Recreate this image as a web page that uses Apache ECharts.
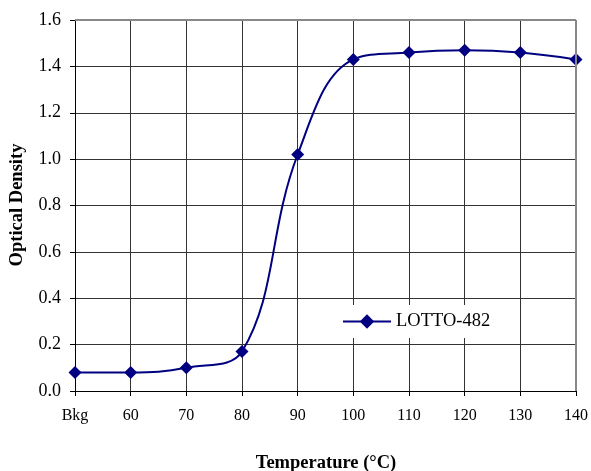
<!DOCTYPE html>
<html>
<head>
<meta charset="utf-8">
<script src="https://cdn.jsdelivr.net/npm/echarts@6/dist/echarts.min.js"></script>
<style>
  html, body { margin: 0; padding: 0; background: #fff; }
  #chart { width: 591px; height: 471px; }
</style>
</head>
<body>
<div id="chart"></div>
<script>
// categories on the x axis
var temps = ["Bkg", "60", "70", "80", "90", "100", "110", "120", "130", "140"];
// optical density
var lotto482 = [0.08, 0.08, 0.10, 0.17, 1.02, 1.43, 1.46, 1.47, 1.46, 1.43];
var seriesName = "LOTTO-482";
var xTitle = "Temperature (°C)";
var yTitle = "Optical Density";

var serif = "'Liberation Serif', 'Times New Roman', serif";
var navy = "#000080";

var chart = echarts.init(document.getElementById("chart"));
var option = {
  animation: false,
  backgroundColor: "#fff",
  grid: { left: 75, right: 14, top: 20, bottom: 80 },
  legend: {
    left: 332,
    top: 305,
    padding: [7, 10],
    backgroundColor: "#fff",
    itemWidth: 48,
    itemHeight: 18,
    textStyle: { fontFamily: serif, fontSize: 18.5, color: "#000" },
    data: [seriesName]
  },
  // axis titles placed by hand so they sit where the reference has them
  graphic: [
    {
      type: "text", x: 326, y: 463,
      style: { text: xTitle, fontFamily: serif, fontSize: 18.5, fontWeight: "bold",
               fill: "#000", align: "center", verticalAlign: "middle" }
    },
    {
      type: "text", x: 17, y: 205, rotation: Math.PI / 2,
      style: { text: yTitle, fontFamily: serif, fontSize: 18.5, fontWeight: "bold",
               fill: "#000", align: "center", verticalAlign: "middle" }
    }
  ],
  xAxis: {
    type: "category",
    data: temps,
    boundaryGap: false,
    axisLine: { lineStyle: { color: "#000", width: 1 } },
    axisTick: { show: true, length: 5, lineStyle: { color: "#000" } },
    axisLabel: { fontFamily: serif, fontSize: 16, color: "#000", margin: 17 },
    splitLine: { show: true, lineStyle: { color: "#333", width: 1 } }
  },
  yAxis: {
    type: "value",
    min: 0,
    max: 1.6,
    interval: 0.2,
    axisLine: { show: true, lineStyle: { color: "#000", width: 1 } },
    axisTick: { show: true, length: 5, lineStyle: { color: "#000" } },
    axisLabel: {
      fontFamily: serif, fontSize: 18, color: "#000", margin: 14,
      formatter: function (v) { return v.toFixed(1); }
    },
    splitLine: { show: true, lineStyle: { color: "#333", width: 1 } }
  },
  series: [
    {
      name: seriesName,
      type: "line",
      data: lotto482,
      smooth: 0.4,
      symbol: "diamond",
      symbolSize: 13,
      lineStyle: { color: navy, width: 2 },
      itemStyle: { color: navy },
      markLine: {
        silent: true,
        symbol: "none",
        label: { show: false },
        lineStyle: { color: "#888", type: "solid", width: 2 },
        data: [
          [{ xAxis: 0, yAxis: 1.6 }, { xAxis: temps.length - 1, yAxis: 1.6 }],
          [{ xAxis: temps.length - 1, yAxis: 0 }, { xAxis: temps.length - 1, yAxis: 1.6 }]
        ]
      }
    }
  ]
};
chart.setOption(option);
</script>
</body>
</html>
